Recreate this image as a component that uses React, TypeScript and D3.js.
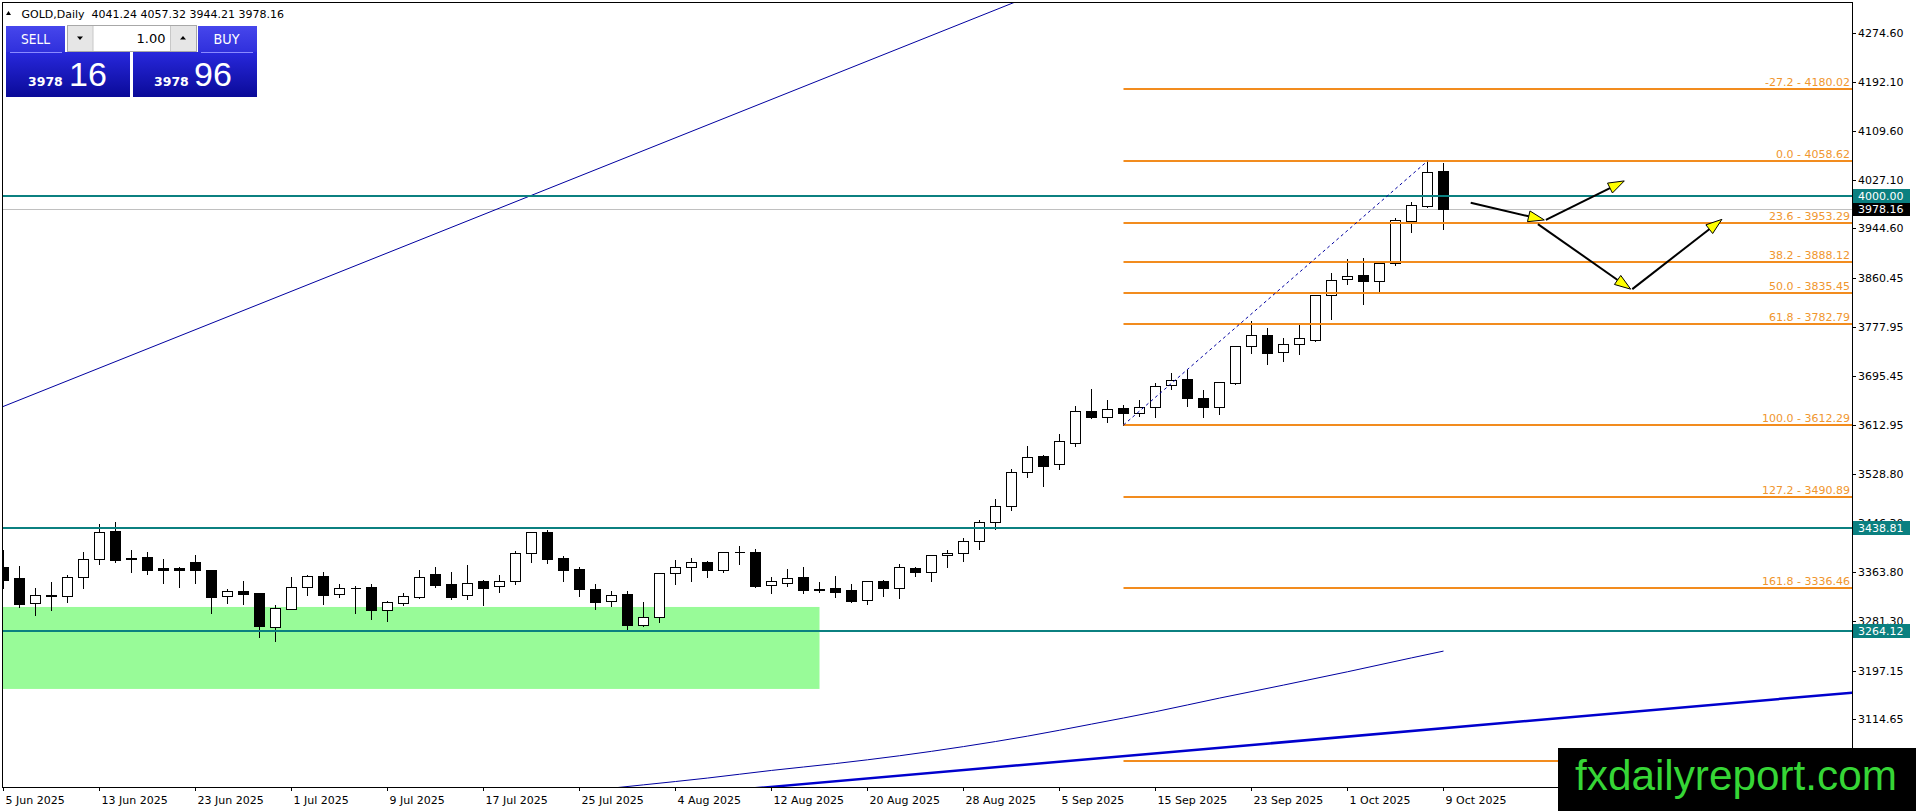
import * as d3 from "d3";

const width = 1916;
const height = 811;
const plot = { left: 3, top: 3, right: 1852, bottom: 787 };

// daily OHLC, 5 Jun 2025 .. 9 Oct 2025 (one bar per weekday)
const opens = [
  3372.7, 3353.0, 3310.7, 3324.8, 3322.6, 3354.7, 3385.1, 3433.0, 3387.9, 3389.1,
  3370.5, 3370.5, 3380.6, 3367.1, 3322.6, 3331.6, 3328.2, 3271.3, 3301.7, 3337.8,
  3356.9, 3325.9, 3336.0, 3337.8, 3300.0, 3311.8, 3322.0, 3359.8, 3342.8, 3324.2,
  3347.9, 3339.5, 3349.1, 3395.3, 3430.8, 3386.9, 3368.3, 3334.4, 3314.2, 3325.9,
  3274.1, 3288.2, 3361.5, 3372.8, 3380.1, 3367.7, 3397.6, 3397.0, 3342.3, 3345.7,
  3355.3, 3334.3, 3336.7, 3333.3, 3315.8, 3348.5, 3337.3, 3369.9, 3364.3, 3391.9,
  3396.4, 3415.6, 3447.7, 3474.5, 3532.3, 3559.3, 3545.8, 3582.0, 3636.0, 3625.3,
  3641.1, 3632.0, 3642.2, 3679.4, 3690.1, 3658.0, 3643.3, 3684.0, 3745.3, 3763.9,
  3735.2, 3748.7, 3756.6, 3831.6, 3858.6, 3865.4, 3855.2, 3885.7, 3957.8, 3983.2,
  4041.24,
];
const highs = [
  3402.0, 3375.5, 3337.8, 3347.9, 3360.3, 3399.2, 3446.0, 3449.9, 3402.0, 3398.7,
  3386.8, 3373.8, 3394.1, 3369.3, 3336.7, 3349.6, 3328.5, 3309.6, 3356.9, 3359.7,
  3364.8, 3344.5, 3341.2, 3344.5, 3315.8, 3329.9, 3368.2, 3373.8, 3364.8, 3376.7,
  3351.3, 3359.7, 3400.9, 3433.1, 3436.5, 3391.9, 3373.9, 3344.6, 3333.3, 3333.3,
  3314.7, 3363.7, 3385.2, 3389.7, 3383.5, 3399.8, 3409.4, 3403.8, 3357.0, 3369.9,
  3373.9, 3348.5, 3358.7, 3344.6, 3350.2, 3352.5, 3379.5, 3374.5, 3392.0, 3402.1,
  3422.9, 3453.4, 3488.9, 3539.6, 3578.5, 3563.3, 3598.2, 3646.1, 3674.3, 3655.7,
  3647.3, 3655.7, 3684.5, 3701.4, 3706.4, 3673.8, 3684.5, 3747.6, 3789.9, 3778.0,
  3761.1, 3782.5, 3833.8, 3871.0, 3895.2, 3896.9, 3891.3, 3963.4, 3991.1, 4058.62,
  4057.32,
];
const lows = [
  3337.2, 3305.0, 3291.6, 3300.0, 3313.5, 3337.2, 3377.2, 3381.2, 3364.3, 3360.9,
  3345.7, 3338.9, 3345.7, 3293.8, 3310.7, 3309.0, 3254.4, 3247.0, 3300.6, 3325.4,
  3310.2, 3322.0, 3294.9, 3284.2, 3280.9, 3307.9, 3320.3, 3338.3, 3318.0, 3318.6,
  3308.5, 3330.4, 3343.5, 3381.2, 3379.5, 3349.1, 3323.7, 3300.6, 3306.3, 3265.7,
  3273.0, 3279.8, 3343.5, 3348.5, 3355.3, 3364.3, 3377.8, 3338.4, 3328.8, 3340.1,
  3328.8, 3330.5, 3320.9, 3313.0, 3310.2, 3323.7, 3320.4, 3357.6, 3349.1, 3372.8,
  3382.9, 3403.2, 3435.9, 3468.6, 3525.0, 3509.7, 3538.5, 3577.4, 3624.5, 3618.0,
  3612.29, 3627.5, 3625.3, 3673.8, 3645.0, 3626.4, 3630.9, 3681.7, 3734.6, 3716.0,
  3721.1, 3732.9, 3754.9, 3792.1, 3850.7, 3817.5, 3837.2, 3882.3, 3939.2, 3981.5,
  3944.21,
];
const closes = [
  3350.2, 3309.0, 3324.2, 3322.6, 3354.7, 3385.1, 3430.8, 3384.6, 3385.1, 3367.7,
  3367.7, 3367.7, 3367.7, 3322.0, 3331.0, 3327.1, 3273.0, 3302.3, 3337.8, 3356.9,
  3325.4, 3336.1, 3336.7, 3300.0, 3312.4, 3322.6, 3354.7, 3342.3, 3322.0, 3345.7,
  3337.2, 3349.0, 3395.3, 3430.8, 3385.7, 3367.1, 3335.0, 3313.6, 3325.4, 3274.1,
  3288.2, 3361.5, 3372.8, 3380.1, 3367.7, 3397.0, 3396.8, 3340.1, 3348.5, 3354.2,
  3333.3, 3333.8, 3330.5, 3315.3, 3348.5, 3337.3, 3371.6, 3364.3, 3391.9, 3395.9,
  3415.6, 3447.7, 3475.3, 3532.9, 3557.7, 3543.6, 3584.7, 3635.4, 3625.3, 3638.8,
  3633.2, 3642.2, 3677.7, 3687.8, 3658.5, 3643.3, 3684.5, 3745.3, 3763.9, 3734.6,
  3748.7, 3758.9, 3832.1, 3856.9, 3863.7, 3855.2, 3886.2, 3958.4, 3983.7, 4040.1,
  3978.16,
];

const dateBars = [0, 6, 12, 18, 24, 30, 36, 42, 48, 54, 60, 66, 72, 78, 84, 90];
const dateLabels = [
  "5 Jun 2025", "13 Jun 2025", "23 Jun 2025", "1 Jul 2025", "9 Jul 2025",
  "17 Jul 2025", "25 Jul 2025", "4 Aug 2025", "12 Aug 2025", "20 Aug 2025",
  "28 Aug 2025", "5 Sep 2025", "15 Sep 2025", "23 Sep 2025", "1 Oct 2025",
  "9 Oct 2025",
];

const priceTicks = [
  4274.6, 4192.1, 4109.6, 4027.1, 3944.6, 3860.45, 3777.95, 3695.45, 3612.95,
  3528.8, 3446.3, 3363.8, 3281.3, 3197.15, 3114.65,
];

const levelPrices = [4000.0, 3438.81, 3264.12];
const bidPrice = 3978.16;

const fibRatios = ["-27.2", "0.0", "23.6", "38.2", "50.0", "61.8", "100.0", "127.2", "161.8", "227.2"];
const fibPrices = [4180.02, 4058.62, 3953.29, 3888.12, 3835.45, 3782.79, 3612.29, 3490.89, 3336.46, 3044.56];
const fibBars = [70, 89];
const fibAnchorPrices = [3612.29, 4058.62];

// trend lines: two anchors each (bar index, price)
const channelBars = [0, 63];
const channelPrices = [3643.8, 4325.0];
const supportBars = [48, 115.5];
const supportPrices = [3000.5, 3159.6];

// slow moving average, read at selected bars
const maBars = [36, 40, 44, 48, 52, 56, 60, 64, 68, 72, 76, 80, 84, 88, 90];
const maValues = [
  2992.6, 3003.8, 3015.3, 3028.2, 3039.8, 3053.0, 3068.5, 3086.2, 3106.5,
  3127.5, 3150.5, 3172.5, 3195.0, 3218.5, 3230.0,
];

const zoneBars = [-10, 51];
const zonePrices = [3304.6, 3166.0];

const arrowFromBars = [91.7, 96.4, 95.9, 101.8];
const arrowFromPrices = [3988, 3959, 3952, 3842];
const arrowToBars = [96.3, 101.3, 101.7, 107.4];
const arrowToPrices = [3959, 4025, 3842, 3960];

const font = "'DejaVu Sans', Tahoma, Verdana, sans-serif";
const teal = "#0b8080";
const orange = "#f28c1e";
const navy = "#0000a0";

const snap = (v: number) => Math.round(v) + 0.5;

export default function App() {
  const x = d3.scaleLinear().domain([0, 90]).range([3.5, 1443.5]);
  const y = d3.scaleLinear().domain([3114.65, 4274.6]).range([719.3, 33.3]);

  const lineAcross = (bars: number[], prices: number[]) => {
    const slope = (prices[1] - prices[0]) / (bars[1] - bars[0]);
    const b0 = x.invert(plot.left - 5);
    const b1 = x.invert(plot.right + 5);
    const p = (b: number) => prices[0] + (b - bars[0]) * slope;
    return { x1: x(b0), y1: y(p(b0)), x2: x(b1), y2: y(p(b1)) };
  };

  const channel = lineAcross(channelBars, channelPrices);
  const support = lineAcross(supportBars, supportPrices);

  const maPath = d3
    .line<number>()
    .x((_, i) => x(maBars[i]))
    .y((v) => y(v))
    .curve(d3.curveMonotoneX)(maValues);

  const fibStart = x(fibBars[0]);

  const arrows = arrowFromBars.map((b, i) => {
    const x0 = x(b);
    const y0 = y(arrowFromPrices[i]);
    const x1 = x(arrowToBars[i]);
    const y1 = y(arrowToPrices[i]);
    const len = Math.hypot(x1 - x0, y1 - y0);
    const ux = (x1 - x0) / len;
    const uy = (y1 - y0) / len;
    const bx = x1 - ux * 16;
    const by = y1 - uy * 16;
    const head = [
      [x1, y1],
      [bx - uy * 5.5, by + ux * 5.5],
      [bx + uy * 5.5, by - ux * 5.5],
    ];
    return { x0, y0, bx, by, head: head.map((p) => p.join(",")).join(" ") };
  });

  return (
    <svg
      width={width}
      height={height}
      style={{ position: "absolute", left: 0, top: 0, display: "block", background: "#fff" }}
    >
      <defs>
        <clipPath id="plotClip">
          <rect x={plot.left} y={plot.top} width={plot.right - plot.left} height={plot.bottom - plot.top} />
        </clipPath>
        <linearGradient id="labelGrad" x1="0" y1="0" x2="0" y2="1">
          <stop offset="0" stopColor="#4646ec" />
          <stop offset="1" stopColor="#3030dc" />
        </linearGradient>
        <linearGradient id="priceGrad" x1="0" y1="0" x2="0" y2="1">
          <stop offset="0" stopColor="#2828dc" />
          <stop offset="1" stopColor="#0a0a98" />
        </linearGradient>
      </defs>

      <g clipPath="url(#plotClip)">
        <rect
          x={x(zoneBars[0])}
          y={y(zonePrices[0])}
          width={x(zoneBars[1]) - x(zoneBars[0])}
          height={y(zonePrices[1]) - y(zonePrices[0])}
          fill="#98fb98"
        />
        <line x1={plot.left} x2={plot.right} y1={snap(y(bidPrice))} y2={snap(y(bidPrice))} stroke="#c0c0c0" />

        {opens.map((o, i) => {
          const c = closes[i];
          const cx = x(i);
          const top = snap(y(Math.max(o, c)));
          const bot = snap(y(Math.min(o, c)));
          const up = c >= o;
          return (
            <g key={i} shapeRendering="crispEdges">
              <line x1={cx} x2={cx} y1={snap(y(highs[i]))} y2={snap(y(lows[i]))} stroke="#000" />
              {bot - top < 1 ? (
                <line x1={cx - 5} x2={cx + 5} y1={top} y2={top} stroke="#000" />
              ) : (
                <rect x={cx - 5} y={top} width={10} height={bot - top} fill={up ? "#fff" : "#000"} stroke="#000" />
              )}
            </g>
          );
        })}

        <line {...channel} stroke={navy} strokeWidth={1} />
        <path d={maPath ?? ""} fill="none" stroke={navy} strokeWidth={1} />
        <line {...support} stroke="#0000cd" strokeWidth={2.5} />

        {levelPrices.map((p) => (
          <line key={p} x1={plot.left} x2={plot.right} y1={Math.round(y(p))} y2={Math.round(y(p))} stroke={teal} strokeWidth={2} />
        ))}

        {fibPrices.map((p, i) => (
          <g key={p}>
            <line x1={fibStart} x2={plot.right} y1={Math.round(y(p))} y2={Math.round(y(p))} stroke={orange} strokeWidth={2} />
            <text
              x={plot.right - 2}
              y={Math.round(y(p)) - 3}
              textAnchor="end"
              fontFamily={font}
              fontSize={11}
              fill="#f0962e"
            >
              {`${fibRatios[i]} - ${p.toFixed(2)}`}
            </text>
          </g>
        ))}
        <line
          x1={x(fibBars[0])}
          y1={y(fibAnchorPrices[0])}
          x2={x(fibBars[1])}
          y2={y(fibAnchorPrices[1])}
          stroke={navy}
          strokeDasharray="3 3"
        />

        {arrows.map((a, i) => (
          <g key={i}>
            <line x1={a.x0} y1={a.y0} x2={a.bx} y2={a.by} stroke="#000" strokeWidth={2} />
            <polygon points={a.head} fill="#ffff00" stroke="#000" strokeWidth={1} />
          </g>
        ))}
      </g>

      {/* frame */}
      <rect
        x={plot.left - 0.5}
        y={plot.top - 0.5}
        width={plot.right - plot.left + 1}
        height={plot.bottom - plot.top + 1}
        fill="none"
        stroke="#000"
        shapeRendering="crispEdges"
      />

      {/* price axis */}
      {priceTicks.map((p) => (
        <g key={p}>
          <line x1={plot.right} x2={plot.right + 4} y1={snap(y(p))} y2={snap(y(p))} stroke="#000" />
          <text x={1858} y={Math.round(y(p)) + 4} fontFamily={font} fontSize={11} fill="#000">
            {p.toFixed(2)}
          </text>
        </g>
      ))}
      {levelPrices.map((p) => (
        <g key={p}>
          <rect x={1853} y={Math.round(y(p)) - 7} width={57} height={14} fill={teal} />
          <text x={1858} y={Math.round(y(p)) + 4} fontFamily={font} fontSize={11} fill="#fff">
            {p.toFixed(2)}
          </text>
        </g>
      ))}
      <rect x={1853} y={Math.round(y(bidPrice)) - 6} width={57} height={13} fill="#000" />
      <text x={1858} y={Math.round(y(bidPrice)) + 4} fontFamily={font} fontSize={11} fill="#fff">
        {bidPrice.toFixed(2)}
      </text>

      {/* time axis */}
      {dateBars.map((b, i) => (
        <g key={b}>
          <line x1={x(b)} x2={x(b)} y1={plot.bottom} y2={plot.bottom + 4} stroke="#000" />
          <text x={x(b) + 2} y={804} fontFamily={font} fontSize={11} fill="#000">
            {dateLabels[i]}
          </text>
        </g>
      ))}

      {/* header */}
      <polygon points="6,15 11,15 8.5,11" fill="#000" />
      <text x={21.5} y={17.5} fontFamily={font} fontSize={11} fill="#000" style={{ whiteSpace: "pre" }}>
        {`GOLD,Daily  ${opens[90].toFixed(2)} ${highs[90].toFixed(2)} ${lows[90].toFixed(2)} ${closes[90].toFixed(2)}`}
      </text>

      {/* one click trading panel */}
      <g>
        <rect x={6} y={26} width={59} height={26} fill="url(#labelGrad)" />
        <rect x={6} y={52} width={124} height={45} fill="url(#priceGrad)" />
        <line x1={10} x2={62} y1={52.5} y2={52.5} stroke="#8a8aff" />
        <rect x={198} y={26} width={59} height={26} fill="url(#labelGrad)" />
        <rect x={133} y={52} width={124} height={45} fill="url(#priceGrad)" />
        <line x1={201} x2={253} y1={52.5} y2={52.5} stroke="#8a8aff" />

        <rect x={67.5} y={25.5} width={129} height={26} fill="#e6e6e6" stroke="#a8a8a8" />
        <rect x={93} y={26} width={77.5} height={25} fill="#fff" />
        <line x1={93} x2={93} y1={26} y2={51} stroke="#c8c8c8" />
        <line x1={170.5} x2={170.5} y1={26} y2={51} stroke="#c8c8c8" />
        <polygon points="77,36.5 83,36.5 80,40" fill="#000" />
        <polygon points="180,39.5 186,39.5 183,36" fill="#000" />
        <text x={165.5} y={43} textAnchor="end" fontFamily={font} fontSize={13} fill="#000">
          1.00
        </text>

        <text x={35.5} y={44} textAnchor="middle" fontFamily={font} fontSize={14} fill="#fff" textLength={29} lengthAdjust="spacingAndGlyphs">
          SELL
        </text>
        <text x={226.5} y={44} textAnchor="middle" fontFamily={font} fontSize={14} fill="#fff" textLength={26} lengthAdjust="spacingAndGlyphs">
          BUY
        </text>

        <text x={28} y={86} fontFamily={font} fontWeight="bold" fontSize={12.5} fill="#fff">
          3978
        </text>
        <text x={69} y={86} fontFamily="'Liberation Sans', Arial, sans-serif" fontSize={34} fill="#fff">
          16
        </text>
        <text x={154} y={86} fontFamily={font} fontWeight="bold" fontSize={12.5} fill="#fff">
          3978
        </text>
        <text x={194} y={86} fontFamily="'Liberation Sans', Arial, sans-serif" fontSize={34} fill="#fff">
          96
        </text>
      </g>

      {/* watermark */}
      <rect x={1558} y={748} width={358} height={63} fill="#000" />
      <text
        x={1575}
        y={790}
        fontFamily="'Liberation Sans', Arial, sans-serif"
        fontSize={42}
        fill="#36d636"
        textLength={322}
        lengthAdjust="spacingAndGlyphs"
      >
        fxdailyreport.com
      </text>
    </svg>
  );
}
